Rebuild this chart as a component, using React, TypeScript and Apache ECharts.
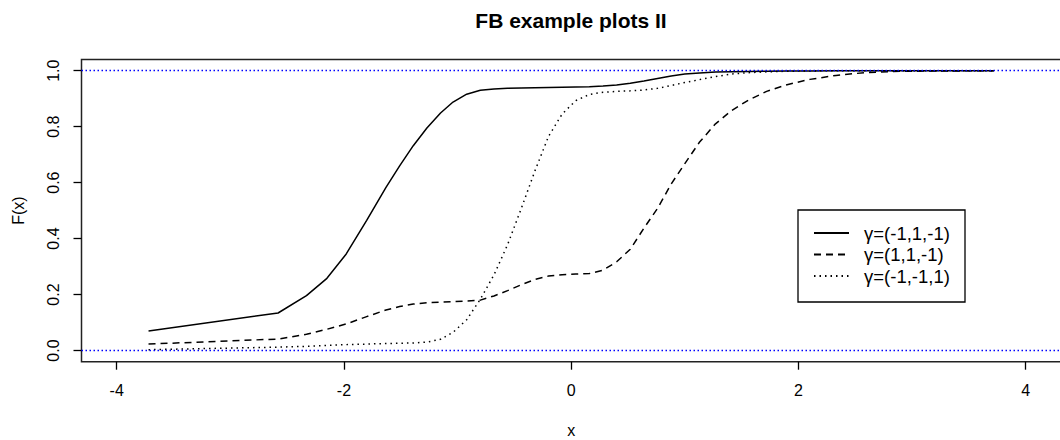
import React, { useEffect, useRef } from "react";
import * as echarts from "echarts";

// ---- data ----
const chartTitle = "FB example plots II";
const xAxisTitle = "x";
const yAxisTitle = "F(x)";
const seriesNames = ["γ=(-1,1,-1)", "γ=(1,1,-1)", "γ=(-1,-1,1)"];

const xValues = [
  -3.72, -2.58, -2.33, -2.15, -1.98, -1.8, -1.63, -1.51, -1.39, -1.27, -1.15, -1.04, -0.92,
  -0.8, -0.68, -0.56, -0.44, -0.32, -0.2, -0.08, 0.04, 0.16, 0.28, 0.4, 0.52, 0.64, 0.76,
  0.88, 1.0, 1.13, 1.27, 1.41, 1.56, 1.72, 1.9, 2.1, 2.33, 2.58, 2.9, 3.72,
];

const solidY = [
  0.07, 0.134, 0.196, 0.258, 0.345, 0.465, 0.583, 0.66, 0.732, 0.795, 0.849, 0.888, 0.916,
  0.93, 0.935, 0.937, 0.938, 0.939, 0.94, 0.941, 0.942, 0.943, 0.945, 0.949, 0.955, 0.963,
  0.972, 0.981, 0.988, 0.992, 0.995, 0.996, 0.997, 0.998, 0.999, 0.999, 1.0, 1.0, 1.0, 1.0,
];

const dashedY = [
  0.023, 0.041, 0.058, 0.076, 0.095, 0.121, 0.145, 0.157, 0.166, 0.171, 0.173, 0.175, 0.177,
  0.18, 0.195, 0.214, 0.235, 0.254, 0.266, 0.271, 0.273, 0.275, 0.287, 0.317, 0.362, 0.437,
  0.508, 0.595, 0.668, 0.745, 0.81, 0.857, 0.895, 0.926, 0.95, 0.969, 0.983, 0.993, 0.998, 1.0,
];

const dottedY = [
  0.003, 0.012, 0.015, 0.018, 0.021, 0.023, 0.025, 0.026, 0.027, 0.03, 0.04, 0.065, 0.11,
  0.183, 0.27, 0.378, 0.507, 0.641, 0.765, 0.845, 0.893, 0.915, 0.923, 0.926, 0.928, 0.931,
  0.937, 0.947, 0.958, 0.968, 0.979, 0.988, 0.993, 0.996, 0.998, 0.999, 1.0, 1.0, 1.0, 1.0,
];

const xTicks = [-4, -2, 0, 2, 4];
const yTicks = [0, 0.2, 0.4, 0.6, 0.8, 1.0];
const referenceLines = [0, 1];

const FONT = "'Liberation Sans', Arial, Helvetica, sans-serif";

export default function App() {
  const ref = useRef<HTMLDivElement>(null);

  useEffect(() => {
    if (!ref.current) return;
    const chart = echarts.init(ref.current, undefined, { renderer: "svg" });

    const toPairs = (ys: number[]) => xValues.map((x, i) => [x, ys[i]]);
    const lineStyles = [
      { color: "#000", width: 1.5, type: "solid" as any },
      { color: "#000", width: 1.5, type: [7, 5] as any },
      { color: "#000", width: 1.5, type: [1.5, 4] as any },
    ];
    const seriesData = [solidY, dashedY, dottedY];

    const option: any = {
      animation: false,
      backgroundColor: "#fff",
      title: {
        text: chartTitle,
        left: 571,
        top: 10,
        textAlign: "center",
        padding: 0,
        textStyle: { fontFamily: FONT, fontWeight: "bold", fontSize: 21, color: "#000" },
      },
      grid: {
        left: 81.5,
        top: 59.5,
        width: 979.4,
        height: 302.2,
        show: true,
        borderColor: "#222",
        borderWidth: 1.5,
        backgroundColor: "transparent",
        containLabel: false,
        outerBoundsMode: "none",
      },
      xAxis: {
        type: "value",
        min: -4.31,
        max: 4.31,
        name: xAxisTitle,
        nameLocation: "middle",
        nameGap: 61,
        nameTextStyle: { fontFamily: FONT, fontSize: 16, color: "#000" },
        axisLine: { show: false, onZero: false },
        splitLine: { show: false },
        axisTick: {
          show: true,
          length: 8,
          inside: false,
          customValues: xTicks,
          lineStyle: { color: "#000", width: 1.3 },
        },
        axisLabel: {
          customValues: xTicks,
          margin: 21,
          fontFamily: FONT,
          fontSize: 16,
          color: "#000",
          formatter: (v: number) => String(v),
        },
      },
      yAxis: {
        type: "value",
        min: -0.04,
        max: 1.04,
        name: yAxisTitle,
        nameLocation: "middle",
        nameGap: 55,
        nameRotate: 90,
        nameTextStyle: { fontFamily: FONT, fontSize: 16, color: "#000" },
        axisLine: { show: false, onZero: false },
        splitLine: { show: false },
        axisTick: {
          show: true,
          length: 8,
          inside: false,
          customValues: yTicks,
          lineStyle: { color: "#000", width: 1.3 },
        },
        axisLabel: {
          customValues: yTicks,
          rotate: 90,
          margin: 20,
          fontFamily: FONT,
          fontSize: 16,
          color: "#000",
          formatter: (v: number) => v.toFixed(1),
        },
      },
      legend: {
        orient: "vertical",
        left: 813,
        top: 222.25,
        padding: 0,
        itemGap: 0,
        itemWidth: 35,
        itemHeight: 12,
        selectedMode: false,
        data: seriesNames,
        itemStyle: { opacity: 0, borderWidth: 0 },
        textStyle: {
          fontFamily: FONT,
          fontSize: 18.5,
          color: "#000",
          lineHeight: 21.5,
          padding: [0, 0, 0, 10],
        },
      },
      graphic: [
        {
          type: "rect",
          shape: { x: 798, y: 210, width: 167, height: 92 },
          style: { fill: "none", stroke: "#000", lineWidth: 1.3 },
          z: 100,
          silent: true,
        },
      ],
      series: [
        ...seriesNames.map((name, i) => ({
          name,
          type: "line",
          data: toPairs(seriesData[i]),
          showSymbol: false,
          symbol: "none",
          smooth: false,
          lineStyle: lineStyles[i],
          itemStyle: { color: "#000" },
          silent: true,
          z: 3,
        })),
        {
          name: "reference",
          type: "line",
          data: [],
          silent: true,
          markLine: {
            silent: true,
            symbol: "none",
            label: { show: false },
            lineStyle: { color: "#0000ff", width: 1.4, type: [1.5, 2.5] },
            data: referenceLines.map((v) => ({ yAxis: v })),
          },
        },
      ],
    };

    chart.setOption(option);
    return () => chart.dispose();
  }, []);

  return (
    <div
      ref={ref}
      style={{ position: "absolute", left: 0, top: 0, width: 1060, height: 440 }}
    />
  );
}
